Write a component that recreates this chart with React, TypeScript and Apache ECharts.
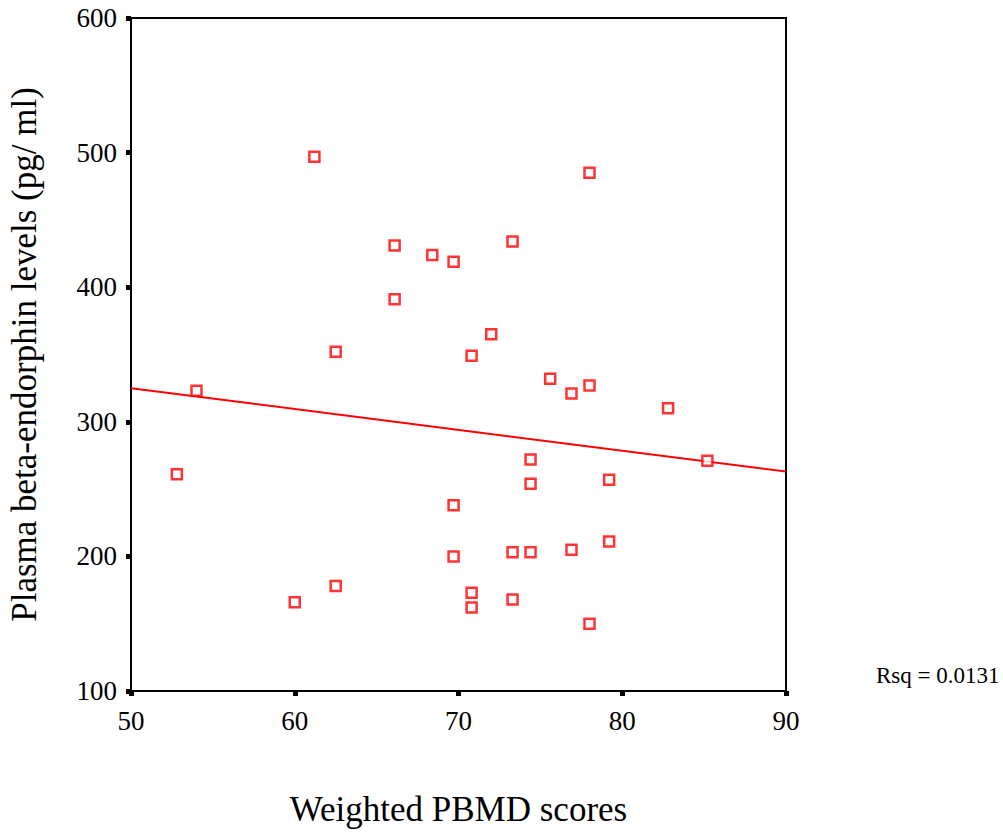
import React, { useEffect, useRef } from "react";
import * as echarts from "echarts";

const pbmdScores: number[] = [
  54.0, 52.8, 61.2, 78.0, 66.1, 68.4, 69.7, 73.3, 66.1, 62.5, 72.0, 70.8, 75.6, 76.9, 78.0, 82.8,
  85.2, 74.4, 74.4, 79.2, 69.7, 69.7, 73.3, 74.4, 76.9, 79.2, 62.5, 60.0, 70.8, 70.8, 73.3, 78.0,
];
const betaEndorphin: number[] = [
  323, 261, 497, 485, 431, 424, 419, 434, 391, 352, 365, 349, 332, 321, 327, 310,
  271, 272, 254, 257, 238, 200, 203, 203, 205, 211, 178, 166, 173, 162, 168, 150,
];
const fitX: number[] = [50, 90];
const fitY: number[] = [325, 263];
const xTicks = { min: 50, max: 90, interval: 10 };
const yTicks = { min: 100, max: 600, interval: 100 };
const rsqLabel = "Rsq = 0.0131";
const xTitle = "Weighted PBMD scores";
const yTitle = "Plasma beta-endorphin levels (pg/ ml)";

const FONT = '"Liberation Serif", "Times New Roman", serif';

export default function App() {
  const ref = useRef<HTMLDivElement>(null);
  useEffect(() => {
    if (!ref.current) return;
    const chart = echarts.init(ref.current, undefined, { renderer: "svg" });
    const points = pbmdScores.map((x, i) => [x, betaEndorphin[i]]);
    const fit = fitX.map((x, i) => [x, fitY[i]]);
    const labelStyle = { fontFamily: FONT, fontSize: 27, color: "#000" };
    chart.setOption({
      animation: false,
      backgroundColor: "#ffffff",
      textStyle: { fontFamily: FONT, fontSize: 27, color: "#000" },
      grid: {
        left: 131,
        top: 18,
        right: 217,
        bottom: 141,
        containLabel: false,
        outerBoundsMode: "none",
        show: true,
        borderColor: "#000",
        borderWidth: 2,
      },
      xAxis: {
        type: "value",
        min: xTicks.min,
        max: xTicks.max,
        interval: xTicks.interval,
        name: xTitle,
        nameLocation: "middle",
        nameGap: 101,
        nameTextStyle: { fontFamily: FONT, fontSize: 35, color: "#000" },
        axisLine: { show: true, onZero: false, lineStyle: { color: "#000", width: 2 } },
        axisTick: { show: true, length: 5, lineStyle: { color: "#000", width: 5 } },
        axisLabel: { show: true, margin: 16, ...labelStyle },
        splitLine: { show: false },
      },
      yAxis: {
        type: "value",
        min: yTicks.min,
        max: yTicks.max,
        interval: yTicks.interval,
        name: yTitle,
        nameLocation: "middle",
        nameGap: 89,
        nameTextStyle: { fontFamily: FONT, fontSize: 35, color: "#000" },
        axisLine: { show: true, onZero: false, lineStyle: { color: "#000", width: 2 } },
        axisTick: { show: true, length: 5, lineStyle: { color: "#000", width: 5 } },
        axisLabel: { show: true, margin: 14, ...labelStyle },
        splitLine: { show: false },
      },
      series: [
        {
          type: "line",
          data: fit,
          showSymbol: false,
          symbol: "none",
          lineStyle: { color: "#ff0000", width: 2 },
          z: 2,
        },
        {
          type: "scatter",
          data: points,
          symbol: "rect",
          symbolSize: 10,
          itemStyle: { color: "#ffffff", borderColor: "#ff0000", borderWidth: 2.5 },
          z: 3,
        },
      ],
      graphic: [
        {
          type: "text",
          left: 876,
          top: 664,
          style: { text: rsqLabel, fontFamily: FONT, fontSize: 23, fill: "#000" },
        },
      ],
    });
    return () => chart.dispose();
  }, []);
  return (
    <div
      ref={ref}
      style={{ position: "fixed", left: 0, top: 0, width: 1003, height: 832, background: "#fff" }}
    />
  );
}
